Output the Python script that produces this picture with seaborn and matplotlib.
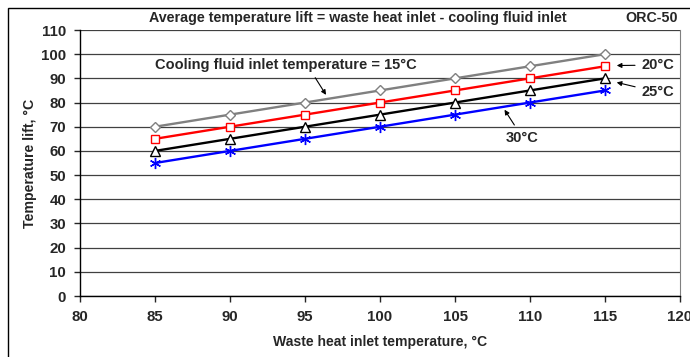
import pandas as pd
import matplotlib
matplotlib.use("Agg")
import matplotlib.pyplot as plt
import seaborn as sns

# %% Daten
waste_heat = [85, 90, 95, 100, 105, 110, 115]
lift_15 = [70, 75, 80, 85, 90, 95, 100]
lift_20 = [65, 70, 75, 80, 85, 90, 95]
lift_25 = [60, 65, 70, 75, 80, 85, 90]
lift_30 = [55, 60, 65, 70, 75, 80, 85]

series = {"15°C": lift_15, "20°C": lift_20, "25°C": lift_25, "30°C": lift_30}
df = pd.concat([pd.DataFrame({"x": waste_heat, "y": v, "cool": k}) for k, v in series.items()])

# %% Plot
sns.set_style("white")
plt.rcParams["font.family"] = ["Liberation Sans", "DejaVu Sans"]
plt.rcParams["font.weight"] = "bold"

fig = plt.figure(figsize=(6.9, 3.57), dpi=100)
ax = fig.add_axes([80 / 690, 1 - 296 / 357, 600 / 690, 266 / 357])

# Rahmen um die ganze Grafik
fig.add_artist(plt.Rectangle((8 / 690, -0.1), 1.1, 1 - 8 / 357 + 0.1, transform=fig.transFigure,
                             fill=False, edgecolor="black", linewidth=1.0))

styles = {
    "15°C": dict(color="#808080", marker="D", ms=5, mfc="white", mec="#808080"),
    "20°C": dict(color="#ff0000", marker="s", ms=6, mfc="white", mec="#ff0000"),
    "25°C": dict(color="black", marker="^", ms=7, mfc="white", mec="black"),
    "30°C": dict(color="#0000ff", marker=(6, 2, 0), ms=8, mfc="none", mec="#0000ff"),
}
for k in series:
    st = styles[k]
    sns.lineplot(data=df[df["cool"] == k], x="x", y="y", ax=ax, color=st["color"],
                 linewidth=1.7, marker=st["marker"], markersize=st["ms"],
                 markerfacecolor=st["mfc"], markeredgecolor=st["mec"], markeredgewidth=1.0,
                 legend=False, zorder=3)

ax.set_xlim(80, 120)
ax.set_ylim(0, 110)
ax.set_xticks(range(80, 121, 5))
ax.set_yticks(range(0, 111, 10))
ax.yaxis.grid(True, color="#404040", linewidth=0.9)
ax.set_axisbelow(True)
for s in ["left", "bottom"]:
    ax.spines[s].set_color("black")
    ax.spines[s].set_linewidth(1.0)
ax.spines["right"].set_color("#808080")
ax.spines["top"].set_visible(False)
ax.tick_params(axis="both", labelsize=10.8, length=4, width=1, direction="out",
               bottom=True, left=True)
ax.tick_params(axis="y", pad=6)
ax.tick_params(axis="x", pad=6)
for lab in ax.get_xticklabels() + ax.get_yticklabels():
    lab.set_fontweight("bold")

ax.set_xlabel("Waste heat inlet temperature, °C", fontsize=10.1, fontweight="bold", labelpad=8)
ax.set_ylabel("Temperature lift, °C", fontsize=10.2, fontweight="bold", labelpad=3)

fig.text(358 / 690, 1 - 18 / 357, "Average temperature lift = waste heat inlet - cooling fluid inlet",
         ha="center", va="center", fontsize=10.3, fontweight="bold")
fig.text(678 / 690, 1 - 18 / 357, "ORC-50", ha="right", va="center", fontsize=10.3, fontweight="bold")

arrow = dict(arrowstyle="-|>", color="black", lw=0.8, mutation_scale=7)
ax.annotate("Cooling fluid inlet temperature = 15°C", xy=(96.5, 82.2), xytext=(93.7, 95.5),
            ha="center", va="center", fontsize=10.5, fontweight="bold",
            arrowprops=dict(arrow, relpos=(0.6, 0)))
ax.annotate("20°C", xy=(115.6, 95.3), xytext=(118.5, 95.5), ha="center", va="center",
            fontsize=10.5, fontweight="bold", arrowprops=arrow)
ax.annotate("25°C", xy=(115.6, 88.6), xytext=(118.5, 84.3), ha="center", va="center",
            fontsize=10.5, fontweight="bold", arrowprops=arrow)
ax.annotate("30°C", xy=(108.2, 78.0), xytext=(109.5, 65.5), ha="center", va="center",
            fontsize=10.5, fontweight="bold", arrowprops=arrow)

fig.savefig("out.png", dpi=100)
